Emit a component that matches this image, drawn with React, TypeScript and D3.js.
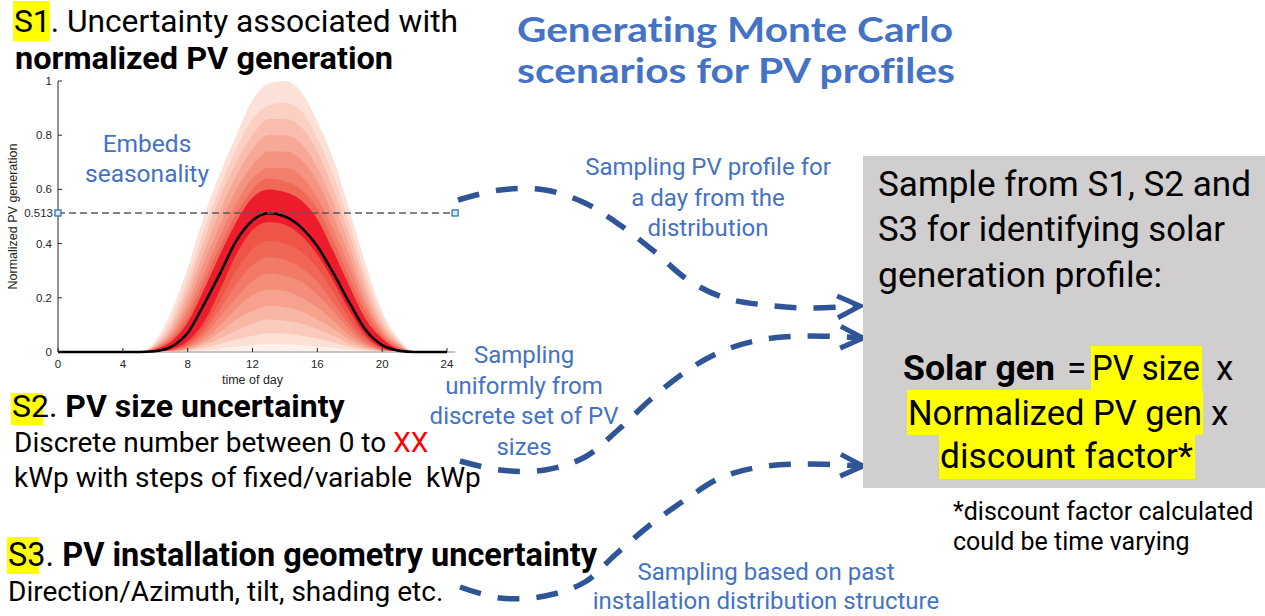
import React from "react";
import * as d3 from "d3";

const hours = [0, 5, 6, 7, 8, 9, 10, 11, 12, 13, 14, 15, 16, 17, 18, 19, 20, 21, 22, 24];

// upper envelopes (outer -> inner)
const qMax = [0, 0, 0.04, 0.15, 0.31, 0.5, 0.66, 0.8, 0.93, 0.99, 1.0, 0.96, 0.85, 0.71, 0.52, 0.32, 0.15, 0.05, 0, 0];
const qU6 = [0, 0, 0.03, 0.12, 0.27, 0.45, 0.61, 0.75, 0.86, 0.91, 0.92, 0.89, 0.79, 0.65, 0.47, 0.28, 0.13, 0.04, 0, 0];
const qU5 = [0, 0, 0.025, 0.1, 0.24, 0.41, 0.57, 0.7, 0.8, 0.86, 0.86, 0.83, 0.74, 0.6, 0.43, 0.25, 0.11, 0.035, 0, 0];
const qU4 = [0, 0, 0.02, 0.085, 0.21, 0.37, 0.52, 0.65, 0.75, 0.8, 0.8, 0.77, 0.68, 0.55, 0.39, 0.22, 0.095, 0.03, 0, 0];
const qU3 = [0, 0, 0.018, 0.07, 0.18, 0.33, 0.47, 0.6, 0.69, 0.74, 0.74, 0.71, 0.63, 0.5, 0.35, 0.19, 0.08, 0.025, 0, 0];
const qU2 = [0, 0, 0.015, 0.06, 0.155, 0.29, 0.43, 0.55, 0.64, 0.68, 0.68, 0.65, 0.57, 0.45, 0.31, 0.17, 0.07, 0.02, 0, 0];
const qU1 = [0, 0, 0.012, 0.05, 0.13, 0.26, 0.39, 0.51, 0.6, 0.64, 0.63, 0.6, 0.53, 0.41, 0.27, 0.145, 0.06, 0.015, 0, 0];
// central (darkest) band
const qDarkTop = [0, 0, 0.01, 0.04, 0.11, 0.23, 0.36, 0.48, 0.57, 0.6, 0.59, 0.56, 0.49, 0.37, 0.24, 0.12, 0.05, 0.01, 0, 0];
const qDarkBot = [0, 0, 0, 0.01, 0.04, 0.11, 0.23, 0.36, 0.45, 0.48, 0.47, 0.43, 0.36, 0.26, 0.15, 0.06, 0.015, 0.002, 0, 0];
// lower envelopes (inner -> outer)
const qL1 = [0, 0, 0, 0.008, 0.03, 0.09, 0.19, 0.3, 0.38, 0.41, 0.4, 0.37, 0.31, 0.22, 0.12, 0.05, 0.012, 0.001, 0, 0];
const qL2 = [0, 0, 0, 0.006, 0.025, 0.075, 0.16, 0.25, 0.32, 0.35, 0.34, 0.31, 0.26, 0.18, 0.1, 0.04, 0.01, 0, 0, 0];
const qL3 = [0, 0, 0, 0.005, 0.02, 0.06, 0.13, 0.2, 0.26, 0.29, 0.28, 0.26, 0.21, 0.15, 0.08, 0.03, 0.008, 0, 0, 0];
const qL4 = [0, 0, 0, 0.004, 0.015, 0.045, 0.1, 0.16, 0.21, 0.23, 0.225, 0.2, 0.165, 0.115, 0.06, 0.025, 0.006, 0, 0, 0];
const qL5 = [0, 0, 0, 0.003, 0.01, 0.035, 0.075, 0.12, 0.15, 0.17, 0.165, 0.15, 0.12, 0.085, 0.045, 0.018, 0.004, 0, 0, 0];
const qL6 = [0, 0, 0, 0.002, 0.008, 0.025, 0.05, 0.08, 0.105, 0.12, 0.115, 0.105, 0.085, 0.06, 0.03, 0.012, 0.003, 0, 0, 0];
const qL7 = [0, 0, 0, 0.001, 0.005, 0.014, 0.03, 0.047, 0.06, 0.07, 0.068, 0.06, 0.05, 0.035, 0.018, 0.007, 0.002, 0, 0, 0];
const qL8 = [0, 0, 0, 0, 0.002, 0.006, 0.012, 0.02, 0.026, 0.03, 0.029, 0.026, 0.021, 0.015, 0.008, 0.003, 0, 0, 0, 0];

// mean normalized profile (black line)
const meanProfile = [0, 0, 0.003, 0.02, 0.07, 0.175, 0.29, 0.41, 0.485, 0.512, 0.5, 0.46, 0.39, 0.29, 0.18, 0.08, 0.025, 0.005, 0, 0];

const xTicks = [0, 4, 8, 12, 16, 20, 24];
const yTicks = [0, 0.2, 0.4, 0.6, 0.8, 1];
const tipValue = 0.513;
const tipHour = 24.5;

const BODY = "Roboto, 'Liberation Sans', sans-serif";
const TITLE = "Lato, 'Open Sans', sans-serif";
const AXIS = "'Liberation Sans', Arial, sans-serif";
const BLUE_TXT = "#4472C4";
const ARROW = "#2F5597";
const HILITE = "#FFFF00";

// dashed connector arrows (annotation layout, not data)
const arrows: [number, number][][] = [
  [[458, 200], [500, 190], [545, 190], [585, 203], [620, 225], [655, 252], [688, 280], [725, 298], [765, 305], [808, 308], [860, 306]],
  [[460, 461], [500, 470], [545, 470], [585, 457], [618, 430], [650, 400], [685, 372], [720, 352], [760, 340], [805, 336], [863, 338]],
  [[460, 587], [500, 598], [545, 596], [585, 582], [615, 555], [650, 525], [685, 500], [720, 478], [760, 467], [805, 464], [863, 466]],
];

function arrowHead(pts: [number, number][]) {
  const [x1, y1] = pts[pts.length - 2];
  const [x2, y2] = pts[pts.length - 1];
  const a = Math.atan2(y2 - y1, x2 - x1);
  const L = 25, s = 0.45;
  const p1 = [x2 - L * Math.cos(a - s), y2 - L * Math.sin(a - s)];
  const p2 = [x2 - L * Math.cos(a + s), y2 - L * Math.sin(a + s)];
  return `M${p1[0]},${p1[1]}L${x2},${y2}L${p2[0]},${p2[1]}`;
}

export default function App() {
  const x = d3.scaleLinear().domain([0, 24]).range([58, 447]);
  const y = d3.scaleLinear().domain([0, 1]).range([352, 81]);

  // painted from the widest envelope down, each fill covering from zero
  const edges = [qMax, qU6, qU5, qU4, qU3, qU2, qU1, qDarkTop, qDarkBot, qL1, qL2, qL3, qL4, qL5, qL6, qL7, qL8];
  const fills = [
    "#FCE1D8", "#FBCFC2", "#F9BCAD", "#F7A897", "#F59381", "#F27E6B", "#F06856",
    "#EC1C2C",
    "#EF5546", "#F06757", "#F27A68", "#F48E7B", "#F6A28F", "#F8B7A5", "#FACBBC", "#FCDFD5", "#FEF1EC",
  ];

  const area = d3.area<number>()
    .x((_, i) => x(hours[i]))
    .y0(y(0))
    .y1((d) => y(d))
    .curve(d3.curveMonotoneX);
  const line = d3.line<number>()
    .x((_, i) => x(hours[i]))
    .y((d) => y(d))
    .curve(d3.curveMonotoneX);
  const arrowLine = d3.line().curve(d3.curveCatmullRom.alpha(0.5));

  const titleStyle = { fontVariantLigatures: "none" as const };

  return (
    <svg width={1265} height={616} style={{ position: "absolute", left: 0, top: 0, background: "#fff" }}>
      {/* fan chart */}
      <g>
        {edges.map((e, i) => (
          <path key={i} d={area(e) || ""} fill={fills[i]} />
        ))}
        <line x1={x(0)} x2={x(tipHour)} y1={y(0)} y2={y(0)} stroke="#C4C4C4" strokeWidth={2} />
        <path d={line(meanProfile) || ""} fill="none" stroke="#000" strokeWidth={2.6} />
        <line x1={x(0)} x2={x(0)} y1={y(1)} y2={y(0)} stroke="#262626" strokeWidth={1} />
        {yTicks.map((t) => (
          <g key={t}>
            <line x1={x(0)} x2={x(0) + 4} y1={y(t)} y2={y(t)} stroke="#262626" />
            <text x={x(0) - 6} y={y(t) + 4} fontSize={11.5} fontFamily={AXIS} fill="#262626" textAnchor="end">{d3.format("~g")(t)}</text>
          </g>
        ))}
        {xTicks.map((t) => (
          <g key={t}>
            <line x1={x(t)} x2={x(t)} y1={y(0)} y2={y(0) - 4} stroke="#262626" />
            <text x={x(t)} y={y(0) + 16} fontSize={11.5} fontFamily={AXIS} fill="#262626" textAnchor="middle">{t}</text>
          </g>
        ))}
        <text x={x(12)} y={384} fontSize={12.5} fontFamily={AXIS} fill="#262626" textAnchor="middle">time of day</text>
        <text transform={`translate(17,${y(0.5)}) rotate(-90)`} fontSize={12.5} fontFamily={AXIS} fill="#262626" textAnchor="middle">Normalized PV generation</text>
        {/* data tip at the mean peak */}
        <line x1={x(0)} x2={x(tipHour)} y1={y(tipValue)} y2={y(tipValue)} stroke="#5A5A5A" strokeWidth={1.3} strokeDasharray="7 4" />
        <text x={x(0) - 5} y={y(tipValue) + 4} fontSize={11.5} fontFamily={AXIS} fill="#262626" textAnchor="end">{tipValue}</text>
        {[0, tipHour].map((h) => (
          <rect key={h} x={x(h) - 3} y={y(tipValue) - 3} width={6} height={6} fill="#DCE9F6" stroke="#2E75B6" strokeWidth={1.3} />
        ))}
      </g>

      {/* S1 heading */}
      <rect x={13} y={1} width={37} height={40} fill={HILITE} />
      <text x={14} y={32} fontSize={32} fontFamily={BODY} fill="#000" textLength={444} lengthAdjust="spacingAndGlyphs">S1. Uncertainty associated with</text>
      <text x={15} y={69} fontSize={32} fontWeight={700} fontFamily={BODY} fill="#000" textLength={378} lengthAdjust="spacingAndGlyphs">normalized PV generation</text>

      {/* title */}
      <text x={517} y={42} fontSize={35} fontWeight={700} fontFamily={TITLE} fill={BLUE_TXT} style={titleStyle} textLength={436} lengthAdjust="spacingAndGlyphs">Generating Monte Carlo</text>
      <text x={517} y={83} fontSize={35} fontWeight={700} fontFamily={TITLE} fill={BLUE_TXT} style={titleStyle} textLength={438} lengthAdjust="spacingAndGlyphs">scenarios for PV profiles</text>

      <text x={147} y={152} fontSize={24.5} fontFamily={BODY} fill={BLUE_TXT} textAnchor="middle">Embeds</text>
      <text x={147} y={182} fontSize={24.5} fontFamily={BODY} fill={BLUE_TXT} textAnchor="middle">seasonality</text>

      {/* S2 block */}
      <rect x={11} y={393} width={32} height={32} fill={HILITE} />
      <text x={12} y={417} fontSize={32} fontFamily={BODY} fill="#000">S2. <tspan fontWeight={700}>PV size uncertainty</tspan></text>
      <text x={14} y={452} fontSize={28} fontFamily={BODY} fill="#000">Discrete number between 0 to <tspan fill="#FF0000">XX</tspan></text>
      <text x={14} y={487} fontSize={28} fontFamily={BODY} fill="#000" xmlSpace="preserve">kWp with steps of fixed/variable  kWp</text>

      {/* S3 block */}
      <rect x={7} y={537} width={32} height={37} fill={HILITE} />
      <text x={8} y={566} fontSize={32.5} fontFamily={BODY} fill="#000">S3. <tspan fontWeight={700}>PV installation geometry uncertainty</tspan></text>
      <text x={8} y={601} fontSize={28} fontFamily={BODY} fill="#000">Direction/Azimuth, tilt, shading etc.</text>

      {/* arrow labels */}
      {["Sampling PV profile for", "a day from the", "distribution"].map((s, i) => (
        <text key={s} x={708} y={175 + i * 30.5} fontSize={24} fontFamily={BODY} fill={BLUE_TXT} textAnchor="middle">{s}</text>
      ))}
      {["Sampling", "uniformly from", "discrete set of PV", "sizes"].map((s, i) => (
        <text key={s} x={524} y={363 + i * 30.7} fontSize={24} fontFamily={BODY} fill={BLUE_TXT} textAnchor="middle">{s}</text>
      ))}
      {["Sampling based on past", "installation distribution structure"].map((s, i) => (
        <text key={s} x={766} y={580 + i * 29} fontSize={24} fontFamily={BODY} fill={BLUE_TXT} textAnchor="middle">{s}</text>
      ))}

      {/* dashed arrows */}
      {arrows.map((pts, i) => (
        <g key={i}>
          <path d={arrowLine(pts) || ""} fill="none" stroke={ARROW} strokeWidth={5.5} strokeDasharray="22 17" />
          <path d={arrowHead(pts)} fill="none" stroke={ARROW} strokeWidth={5} strokeLinejoin="miter" />
        </g>
      ))}

      {/* result box */}
      <rect x={863} y={156} width={402} height={332} fill="#D0CECE" />
      <text x={878} y={196} fontSize={35} fontFamily={BODY} fill="#000" textLength={373} lengthAdjust="spacingAndGlyphs">Sample from S1, S2 and</text>
      <text x={878} y={241} fontSize={35} fontFamily={BODY} fill="#000" textLength={347} lengthAdjust="spacingAndGlyphs">S3 for identifying solar</text>
      <text x={878} y={287} fontSize={35} fontFamily={BODY} fill="#000" textLength={284} lengthAdjust="spacingAndGlyphs">generation profile:</text>

      <rect x={1091} y={346} width={111} height={44} fill={HILITE} />
      <rect x={907} y={390} width={296} height={45} fill={HILITE} />
      <rect x={939} y={435} width={256} height={44} fill={HILITE} />
      <text x={903} y={380} fontSize={35} fontWeight={700} fontFamily={BODY} fill="#000" textLength={152} lengthAdjust="spacingAndGlyphs">Solar gen</text>
      <text x={1067} y={380} fontSize={35} fontFamily={BODY} fill="#000">=</text>
      <text x={1092} y={380} fontSize={35} fontFamily={BODY} fill="#000" textLength={108} lengthAdjust="spacingAndGlyphs">PV size</text>
      <text x={1216} y={380} fontSize={35} fontFamily={BODY} fill="#000">x</text>
      <text x={908} y={425} fontSize={35} fontFamily={BODY} fill="#000" textLength={294} lengthAdjust="spacingAndGlyphs">Normalized PV gen</text>
      <text x={1211} y={425} fontSize={35} fontFamily={BODY} fill="#000">x</text>
      <text x={940} y={468} fontSize={35} fontFamily={BODY} fill="#000" textLength={253} lengthAdjust="spacingAndGlyphs">discount factor*</text>

      <text x={953} y={520} fontSize={25} fontFamily={BODY} fill="#000">*discount factor calculated</text>
      <text x={953} y={550} fontSize={25} fontFamily={BODY} fill="#000">could be time varying</text>
    </svg>
  );
}
